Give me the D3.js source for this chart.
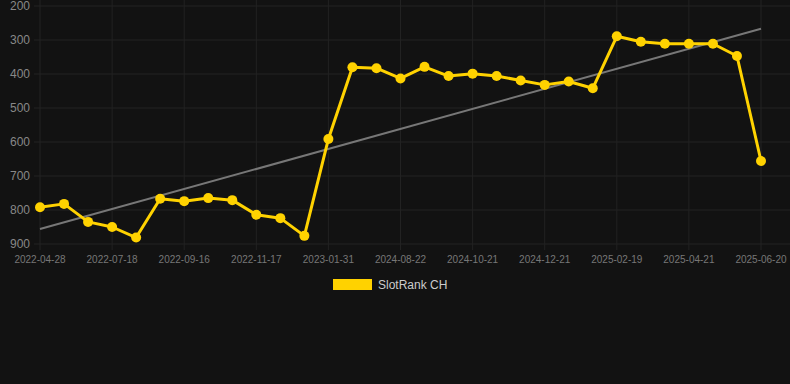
<!DOCTYPE html>
<html lang="en">
<head>
  <meta charset="UTF-8">
  <title>SlotRank CH</title>
  <style>
    html, body { margin: 0; padding: 0; background: #121212; }
    body { width: 790px; height: 384px; overflow: hidden; font-family: "Liberation Sans", Arial, sans-serif; }
    svg { display: block; }
  </style>
  <script src="https://d3js.org/d3.v7.min.js"></script>
</head>
<body>
  <div id="chart"></div>
  <script>
  // rank per sample (lower is better, axis is reversed)
  const ranks = [792, 782, 835, 850, 881, 767, 774, 765, 771, 814,
                 824, 876, 591, 380, 383, 413, 379, 406, 399, 406,
                 419, 432, 422, 442, 289, 305, 311, 311, 311, 347, 656];
  // labels shown under every third sample
  const tickLabels = ['2022-04-28', '2022-07-18', '2022-09-16', '2022-11-17', '2023-01-31',
                      '2024-08-22', '2024-10-21', '2024-12-21', '2025-02-19', '2025-04-21', '2025-06-20'];
  const tickStep = 3;
  const yTicks = [200, 300, 400, 500, 600, 700, 800, 900];
  // trend line end values (first and last sample)
  const trend = [856, 267];
  const seriesName = 'SlotRank CH';

  const W = 790, H = 384;
  const gold = '#ffd200';

  const svg = d3.select('#chart').append('svg')
    .attr('width', W).attr('height', H);

  const idx = d3.range(ranks.length);
  const x = d3.scalePoint().domain(idx).range([40, 761]);
  const y = d3.scaleLinear().domain([200, 900]).range([6, 244]);

  // grid
  svg.append('g').selectAll('line').data(yTicks).join('line')
    .attr('x1', 34).attr('x2', 790)
    .attr('y1', d => y(d)).attr('y2', d => y(d))
    .attr('stroke', '#222').attr('stroke-width', 1);
  svg.append('g').selectAll('line').data(tickLabels).join('line')
    .attr('x1', (d, i) => x(i * tickStep)).attr('x2', (d, i) => x(i * tickStep))
    .attr('y1', 0).attr('y2', 250)
    .attr('stroke', '#222').attr('stroke-width', 1);

  // y labels
  svg.append('g').selectAll('text').data(yTicks).join('text')
    .attr('x', 30).attr('y', d => y(d))
    .attr('dy', '0.35em')
    .attr('text-anchor', 'end')
    .attr('fill', '#888').attr('font-size', 12)
    .text(d => d);

  // x labels
  svg.append('g').selectAll('text').data(tickLabels).join('text')
    .attr('x', (d, i) => x(i * tickStep)).attr('y', 259)
    .attr('dy', '0.35em')
    .attr('text-anchor', 'middle')
    .attr('fill', '#777').attr('font-size', 10)
    .text(d => d);

  // trend line
  svg.append('line')
    .attr('x1', x(0)).attr('y1', y(trend[0]))
    .attr('x2', x(ranks.length - 1)).attr('y2', y(trend[1]))
    .attr('stroke', '#777').attr('stroke-width', 2);

  // series
  svg.append('path')
    .datum(ranks)
    .attr('d', d3.line().x((d, i) => x(i)).y(d => y(d)))
    .attr('fill', 'none').attr('stroke', gold)
    .attr('stroke-width', 3).attr('stroke-linejoin', 'round');

  svg.append('g').selectAll('circle').data(ranks).join('circle')
    .attr('cx', (d, i) => x(i)).attr('cy', d => y(d))
    .attr('r', 5).attr('fill', gold);

  // legend
  const lg = svg.append('g');
  lg.append('rect')
    .attr('x', 333).attr('y', 279).attr('width', 39).attr('height', 11)
    .attr('fill', gold);
  lg.append('text')
    .attr('x', 378).attr('y', 285).attr('dy', '0.35em')
    .attr('fill', '#ccc').attr('font-size', 12)
    .text(seriesName);
  </script>
</body>
</html>
